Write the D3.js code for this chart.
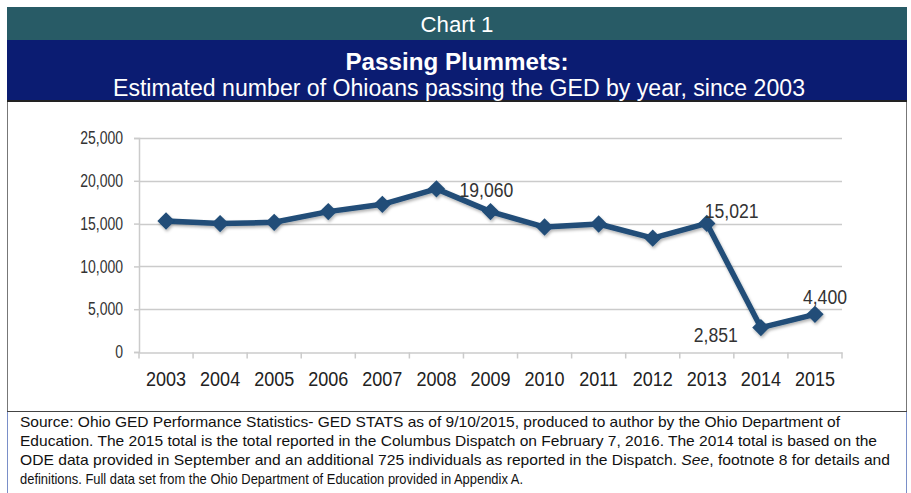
<!DOCTYPE html>
<html>
<head>
<meta charset="utf-8">
<script src="https://cdn.jsdelivr.net/npm/d3@7"></script>
<style>
  body { margin: 0; background: #fff; }
  text { font-family: "Liberation Sans", Arial, sans-serif; }
</style>
</head>
<body>
<script>
const years = ["2003", "2004", "2005", "2006", "2007", "2008", "2009", "2010", "2011", "2012", "2013", "2014", "2015"];
const passed = [15300, 15000, 15150, 16400, 17250, 19060, 16400, 14600, 14950, 13300, 15021, 2851, 4400];
const yTicks = [0, 5000, 10000, 15000, 20000, 25000];
const labelled = { "2008": "right", "2013": "right", "2014": "left", "2015": "above" };
const footLines = [
    ["Source: Ohio GED Performance Statistics- GED STATS as of 9/10/2015, produced to author by the Ohio Department of"],
    ["Education. The 2015 total is the total reported in the Columbus Dispatch on February 7, 2016. The 2014 total is based on the"],
    ["ODE data provided in September and an additional 725 individuals as reported in the Dispatch. ", "See", ", footnote 8 for details and"],
    ["definitions. Full data set from the Ohio Department of Education provided in Appendix A."]
];
const footWidths = [820, 857, 870, 503];

const W = 911, H = 493;
const svg = d3.select("body").append("svg").attr("width", W).attr("height", H);

// squeeze text horizontally, like the narrow face in the original
function squeeze(sel, k) {
    sel.each(function () {
        const len = this.getComputedTextLength();
        d3.select(this).attr("textLength", len * k).attr("lengthAdjust", "spacingAndGlyphs");
    });
}

// header bands
svg.append("rect").attr("x", 7).attr("y", 7).attr("width", 900).attr("height", 33).attr("fill", "#285b66");
svg.append("rect").attr("x", 7).attr("y", 40).attr("width", 900).attr("height", 61).attr("fill", "#0b1c72");
svg.append("rect").attr("x", 7).attr("y", 100).attr("width", 900).attr("height", 2).attr("fill", "#222");

svg.append("text").attr("x", 457).attr("y", 32).attr("text-anchor", "middle")
    .attr("fill", "#fff").attr("font-size", 22).text("Chart 1")
    .attr("textLength", 73).attr("lengthAdjust", "spacingAndGlyphs");
svg.append("text").attr("x", 457).attr("y", 70).attr("text-anchor", "middle")
    .attr("fill", "#fff").attr("font-size", 24).attr("font-weight", "bold").text("Passing Plummets:")
    .attr("textLength", 223).attr("lengthAdjust", "spacingAndGlyphs");
svg.append("text").attr("x", 459).attr("y", 96).attr("text-anchor", "middle")
    .attr("fill", "#fff").attr("font-size", 23).text("Estimated number of Ohioans passing the GED by year, since 2003")
    .attr("textLength", 692).attr("lengthAdjust", "spacingAndGlyphs");

// chart box and footnote box
svg.append("line").attr("x1", 7.5).attr("x2", 7.5).attr("y1", 102).attr("y2", 412).attr("stroke", "#777");
svg.append("line").attr("x1", 906.5).attr("x2", 906.5).attr("y1", 102).attr("y2", 412).attr("stroke", "#777");
svg.append("line").attr("x1", 7).attr("x2", 907).attr("y1", 411.5).attr("y2", 411.5).attr("stroke", "#444");
svg.append("line").attr("x1", 7.5).attr("x2", 7.5).attr("y1", 412).attr("y2", 493).attr("stroke", "#7a8fc8");
svg.append("line").attr("x1", 906.5).attr("x2", 906.5).attr("y1", 412).attr("y2", 493).attr("stroke", "#7a8fc8");

const x = d3.scaleBand().domain(years).range([139, 842]);
const y = d3.scaleLinear().domain([0, 25000]).range([352, 138]);

// gridlines
svg.append("g").selectAll("line").data(yTicks.filter(d => d > 0)).join("line")
    .attr("x1", 139).attr("x2", 842)
    .attr("y1", d => Math.round(y(d)) + 0.5).attr("y2", d => Math.round(y(d)) + 0.5)
    .attr("stroke", "#cbcbcb").attr("stroke-width", 1.5);

const yAxis = svg.append("g").attr("transform", "translate(139,0)")
    .call(d3.axisLeft(y).tickValues(yTicks).tickFormat(d3.format(",")).tickSize(5).tickPadding(11));
yAxis.select(".domain").attr("stroke", "#cbcbcb").attr("stroke-width", 1.5);
yAxis.selectAll(".tick line").attr("stroke", "#cbcbcb").attr("stroke-width", 1.5);
yAxis.selectAll("text").attr("font-size", 17.5).attr("fill", "#333").attr("font-family", "Liberation Sans, Arial").call(squeeze, 0.8);

const xAxis = svg.append("g").attr("transform", `translate(0,${Math.round(y(0)) + 0.5})`)
    .call(d3.axisBottom(x).tickSize(0).tickPadding(19));
xAxis.select(".domain").attr("stroke", "#cbcbcb").attr("stroke-width", 1.5);
xAxis.selectAll("text").attr("font-size", 20).attr("fill", "#222").attr("font-family", "Liberation Sans, Arial").call(squeeze, 0.9);
// category boundary ticks
xAxis.append("g").selectAll("line").data(years.concat(["end"])).join("line")
    .attr("x1", (d, i) => 139 + i * x.step()).attr("x2", (d, i) => 139 + i * x.step())
    .attr("y1", 0).attr("y2", 6).attr("stroke", "#cbcbcb").attr("stroke-width", 1.5);

const defs = svg.append("defs");
const f = defs.append("filter").attr("id", "sh").attr("x", "-20%").attr("y", "-20%").attr("width", "140%").attr("height", "140%");
f.append("feDropShadow").attr("dx", 1).attr("dy", 2).attr("stdDeviation", 1.5).attr("flood-color", "#000").attr("flood-opacity", 0.3);

const pts = years.map((yr, i) => [x(yr) + x.bandwidth() / 2, y(passed[i])]);
const g = svg.append("g").attr("filter", "url(#sh)");
g.append("path").attr("d", d3.line()(pts)).attr("fill", "none")
    .attr("stroke", "#204d78").attr("stroke-width", 5.5).attr("stroke-linejoin", "round");
g.selectAll("path.m").data(pts).join("path").attr("class", "m")
    .attr("transform", d => `translate(${d[0]},${d[1]}) rotate(45)`)
    .attr("d", d3.symbol(d3.symbolSquare, 150)).attr("fill", "#204d78");

// data labels
years.forEach((yr, i) => {
    const pos = labelled[yr];
    if (!pos) return;
    const [px, py] = pts[i];
    let tx = px, ty = py, anchor = "middle";
    if (pos === "right" && yr === "2008") { tx = px + 23; ty = py + 8; anchor = "start"; }
    else if (pos === "right") { tx = px - 2; ty = py - 5; anchor = "start"; }
    if (pos === "left") { tx = px - 23; ty = py + 14; anchor = "end"; }
    if (pos === "above") { tx = px + 10; ty = py - 10; }
    svg.append("text").attr("x", tx).attr("y", ty).attr("text-anchor", anchor)
        .attr("font-size", 20).attr("fill", "#333").text(d3.format(",")(passed[i]))
        .call(squeeze, 0.88);
});

// footnote
const foot = svg.append("g");
footLines.forEach((parts, i) => {
    const t = foot.append("text").attr("x", 20).attr("y", 427 + i * 19)
        .attr("font-size", 15).attr("fill", "#111");
    parts.forEach(p => {
        t.append("tspan").attr("font-style", p === "See" ? "italic" : null).text(p);
    });
    t.attr("textLength", footWidths[i]).attr("lengthAdjust", "spacingAndGlyphs");
});
</script>
</body>
</html>
